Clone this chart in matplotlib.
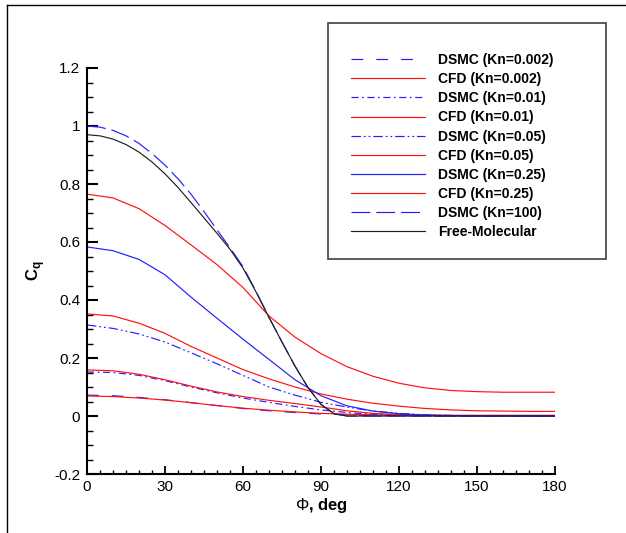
import numpy as np
import matplotlib
matplotlib.use("Agg")
import matplotlib.pyplot as plt
from matplotlib.lines import Line2D
from matplotlib.patches import Rectangle

plt.rcParams['font.family'] = ['Liberation Sans', 'DejaVu Sans']
plt.rcParams['mathtext.fontset'] = 'custom'
plt.rcParams['mathtext.bf'] = 'Liberation Sans:bold'
plt.rcParams['mathtext.rm'] = 'Liberation Sans'

# angle grid (deg) used by most series
phi = [0, 10, 20, 30, 40, 50, 60, 70, 80, 90, 100, 110, 120, 130, 140, 150, 160, 170, 180]

# finer grid for the upper curves
phi_fm = [0, 5, 10, 15, 20, 25, 30, 35, 40, 45, 50, 55, 60, 65, 70, 75, 80, 85, 90, 95, 100,
          110, 120, 150, 180]
cq_fm = [0.97, 0.966, 0.955, 0.936, 0.91, 0.876, 0.835, 0.788, 0.736, 0.683, 0.63, 0.575, 0.51,
         0.428, 0.34, 0.255, 0.172, 0.098, 0.04, 0.008, 0.0, 0.0, 0.0, 0.0, 0.0]
cq_dsmc_100 = [1.0, 0.996, 0.985, 0.966, 0.94, 0.905, 0.865, 0.818, 0.765, 0.705, 0.642, 0.58,
               0.515, 0.43, 0.34, 0.255, 0.172, 0.098, 0.04, 0.008, 0.0, 0.0, 0.0, 0.0, 0.0]

cq_cfd_025 = [0.765, 0.752, 0.715, 0.657, 0.59, 0.522, 0.443, 0.345, 0.272, 0.215, 0.17, 0.137,
              0.113, 0.097, 0.088, 0.084, 0.082, 0.082, 0.082]
cq_dsmc_025 = [0.583, 0.57, 0.54, 0.487, 0.41, 0.337, 0.265, 0.195, 0.125, 0.07, 0.035, 0.017,
               0.008, 0.003, 0.001, 0.0, 0.0, 0.0, 0.0]
cq_cfd_005 = [0.352, 0.345, 0.32, 0.285, 0.24, 0.2, 0.16, 0.128, 0.1, 0.076, 0.058, 0.044,
              0.034, 0.026, 0.021, 0.018, 0.017, 0.016, 0.016]
cq_dsmc_005 = [0.314, 0.302, 0.283, 0.255, 0.218, 0.18, 0.14, 0.1, 0.072, 0.047, 0.031, 0.017,
               0.009, 0.004, 0.002, 0.0, 0.0, 0.0, 0.0]
cq_cfd_001 = [0.159, 0.156, 0.144, 0.125, 0.103, 0.083, 0.067, 0.054, 0.043, 0.031, 0.018, 0.009,
              0.005, 0.003, 0.002, 0.002, 0.002, 0.002, 0.002]
cq_dsmc_001 = [0.152, 0.15, 0.14, 0.122, 0.1, 0.08, 0.062, 0.047, 0.033, 0.021, 0.012, 0.006,
               0.003, 0.001, 0.0, 0.0, 0.0, 0.0, 0.0]
cq_cfd_0002 = [0.069, 0.067, 0.062, 0.055, 0.046, 0.036, 0.027, 0.02, 0.014, 0.009, 0.006, 0.004,
               0.003, 0.002, 0.002, 0.002, 0.002, 0.002, 0.002]
cq_dsmc_0002 = [0.072, 0.07, 0.064, 0.056, 0.046, 0.036, 0.026, 0.018, 0.012, 0.007, 0.004, 0.002,
                0.001, 0.0, 0.0, 0.0, 0.0, 0.0, 0.0]

labels = ["DSMC (Kn=0.002)", "CFD (Kn=0.002)", "DSMC (Kn=0.01)", "CFD (Kn=0.01)",
          "DSMC (Kn=0.05)", "CFD (Kn=0.05)", "DSMC (Kn=0.25)", "CFD (Kn=0.25)",
          "DSMC (Kn=100)", "Free-Molecular"]

W, H = 626, 533
fig = plt.figure(figsize=(W / 100, H / 100), dpi=100)
ax = fig.add_axes([87 / W, 1 - 474 / H, (555 - 87) / W, (474 - 68) / H])

blue = "#2020ff"
red = "#ff1010"
lw = 0.85
ax.plot(phi, cq_dsmc_0002, color=blue, lw=lw, dashes=(10, 11), label=labels[0])
ax.plot(phi, cq_cfd_0002, color=red, lw=lw, label=labels[1])
ax.plot(phi, cq_dsmc_001, color=blue, lw=lw, dashes=(6, 3, 1.5, 3), label=labels[2])
ax.plot(phi, cq_cfd_001, color=red, lw=lw, label=labels[3])
ax.plot(phi, cq_dsmc_005, color=blue, lw=lw, dashes=(8, 2.5, 1.5, 2.5, 1.5, 2.5), label=labels[4])
ax.plot(phi, cq_cfd_005, color=red, lw=lw, label=labels[5])
ax.plot(phi, cq_dsmc_025, color=blue, lw=lw, label=labels[6])
ax.plot(phi, cq_cfd_025, color=red, lw=lw, label=labels[7])
ax.plot(phi_fm, cq_dsmc_100, color=blue, lw=lw, dashes=(16, 5), label=labels[8])
ax.plot(phi_fm, cq_fm, color="#202020", lw=lw, label=labels[9])

ax.set_xlim(0, 180)
ax.set_ylim(-0.2, 1.2)
ax.set_xticks(np.arange(0, 181, 30))
ax.set_xticks(np.arange(0, 181, 5), minor=True)
ax.set_yticks(np.arange(-0.2, 1.21, 0.2))
ax.set_yticks(np.arange(-0.2, 1.21, 0.05), minor=True)
ax.set_yticklabels(["-0.2", "0", "0.2", "0.4", "0.6", "0.8", "1", "1.2"])

ax.spines['top'].set_visible(False)
ax.spines['right'].set_visible(False)
ax.spines['left'].set_linewidth(1.5)
ax.spines['bottom'].set_linewidth(1.5)
ax.tick_params(axis='y', which='major', direction='in', length=8, width=1.5, labelsize=11, pad=5)
ax.tick_params(axis='y', which='minor', direction='in', length=4.5, width=1.0)
ax.tick_params(axis='x', which='major', direction='in', length=6, width=1.3, labelsize=11, pad=4)
ax.tick_params(axis='x', which='minor', direction='in', length=3, width=1.0)

ax.set_xlabel("$\\Phi$, deg", fontsize=12, fontweight='bold', labelpad=2)
ax.set_ylabel("C$_\\mathbf{q}$", fontsize=12, fontweight='bold', labelpad=5)

leg = ax.legend(loc='upper left', bbox_to_anchor=(351 / W, 1 - 53 / H), bbox_transform=fig.transFigure,
                frameon=False, borderpad=0, borderaxespad=0, handlelength=5.3, handletextpad=1.0,
                labelspacing=0.37, prop={'weight': 'bold', 'size': 10})

fig.patches.append(Rectangle((328 / W, 1 - 259 / H), (606 - 328) / W, (259 - 23) / H,
                             transform=fig.transFigure, fill=False, ec="#404040", lw=1.2))
fig.add_artist(Line2D([7 / W, 7 / W], [0, 1 - 5 / H], transform=fig.transFigure, color="black", lw=1))
fig.add_artist(Line2D([7 / W, 1], [1 - 5 / H, 1 - 5 / H], transform=fig.transFigure, color="black", lw=1))

fig.savefig("out.png", dpi=100)
